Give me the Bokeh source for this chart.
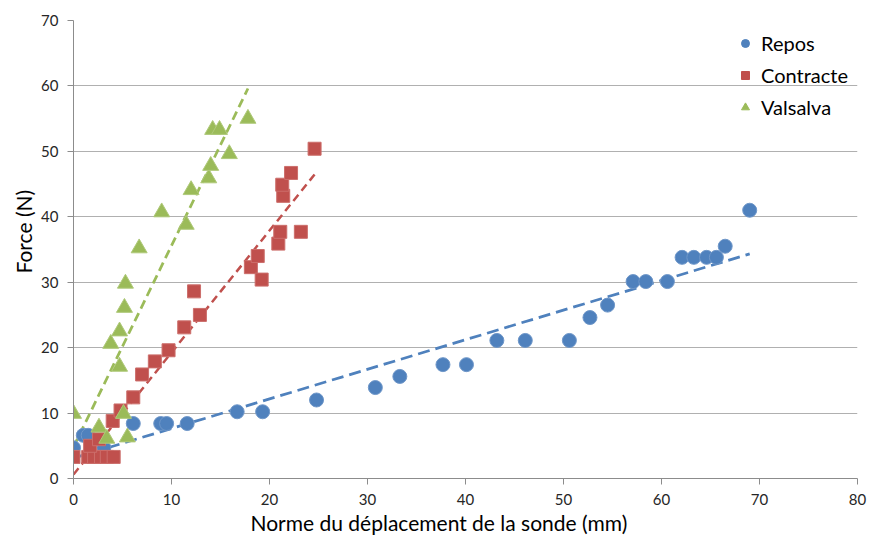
import numpy as np
from bokeh.plotting import figure
from bokeh.models import Range1d, FixedTicker, Legend, LegendItem, Title
from bokeh.embed import file_html
from bokeh.resources import INLINE

# ---- data ----
repos_x = [0, 1.0, 1.5, 3.1, 6.1, 8.9, 9.5, 11.6, 16.7, 19.3, 24.8, 30.8, 33.3, 37.7, 40.1,
           43.2, 46.1, 50.6, 52.7, 54.5, 57.1, 58.4, 60.6, 62.1, 63.3, 64.6, 65.6, 66.5, 69.0]
repos_y = [4.7, 6.6, 6.6, 4.7, 8.4, 8.4, 8.4, 8.4, 10.2, 10.2, 12.0, 13.9, 15.6, 17.4, 17.4,
           21.1, 21.1, 21.1, 24.6, 26.5, 30.1, 30.1, 30.1, 33.8, 33.8, 33.8, 33.8, 35.5, 41.0]

contracte_x = [0, 1.5, 2.1, 2.8, 3.4, 4.1, 1.7, 2.6, 4.0, 4.8, 6.1, 7.0, 8.3, 9.7, 11.3, 12.3,
               12.9, 18.1, 18.8, 19.2, 20.9, 21.1, 23.2, 21.4, 21.3, 22.2, 24.6]
contracte_y = [3.3, 3.3, 3.3, 3.3, 3.3, 3.3, 5.0, 6.0, 8.8, 10.4, 12.4, 15.9, 17.9, 19.6, 23.1, 28.6,
               25.0, 32.3, 34.0, 30.4, 35.9, 37.7, 37.7, 43.2, 44.9, 46.7, 50.4]

valsalva_x = [0, 2.6, 3.4, 5.1, 5.5, 3.8, 4.7, 4.7, 5.2, 5.3, 6.7, 9.0, 11.5, 12.0, 13.8, 14.0,
              14.2, 14.9, 15.9, 17.8]
valsalva_y = [9.9, 7.8, 6.1, 9.9, 6.3, 20.6, 17.1, 22.5, 26.1, 29.8, 35.2, 40.7, 38.8, 44.1, 45.9, 47.8,
              53.3, 53.3, 49.6, 55.0]

x_ticks = [0, 10, 20, 30, 40, 50, 60, 70, 80]
y_ticks = [0, 10, 20, 30, 40, 50, 60, 70]

x_title = "Norme du déplacement de la sonde (mm)"
y_title = "Force (N)"

BLUE = "#4F81BD"
RED = "#C0504D"
GREEN = "#9BBB59"
FONT = "Lato"

p = figure(width=870, height=536, output_backend="svg", toolbar_location=None,
           x_range=Range1d(0, 80), y_range=Range1d(0, 70),
           min_border_left=73, min_border_right=13, min_border_top=20, min_border_bottom=58)
p.outline_line_color = None
p.background_fill_color = "white"

# axes
for ax in (p.xaxis[0], p.yaxis[0]):
    ax.axis_line_color = "#8C8C8C"
    ax.major_tick_line_color = "#8C8C8C"
    ax.major_tick_out = 6
    ax.major_tick_in = 0
    ax.minor_tick_line_color = None
    ax.major_label_text_font = FONT
    ax.major_label_text_font_size = "15px"
    ax.major_label_text_color = "#262626"

p.xaxis.ticker = FixedTicker(ticks=x_ticks)
p.yaxis.ticker = FixedTicker(ticks=y_ticks)
p.xaxis.major_label_standoff = 9
p.yaxis.major_label_standoff = 9

# axis titles, placed off-centre like the reference
p.add_layout(Title(text=x_title, align="left", offset=177, standoff=0,
                   text_font=FONT, text_font_size="21px", text_font_style="normal",
                   text_color="#000000"), "below")
p.add_layout(Title(text=y_title, align="left", offset=205, standoff=6,
                   text_font=FONT, text_font_size="21px", text_font_style="normal",
                   text_color="#000000"), "left")

p.xgrid.grid_line_color = None
p.ygrid.grid_line_color = "#B0B0B0"
p.ygrid.grid_line_width = 1

# trend lines (least squares on the data)
def trend(xs, ys, color, dash, width):
    xs = np.asarray(xs, float)
    ys = np.asarray(ys, float)
    m, b = np.polyfit(xs, ys, 1)
    lx = np.array([xs.min(), xs.max()])
    p.line(lx, m * lx + b, line_color=color, line_dash=dash, line_width=width)

trend(repos_x, repos_y, BLUE, "12 6", 2.75)
trend(contracte_x, contracte_y, RED, "8 5", 2.5)
trend(valsalva_x, valsalva_y, GREEN, "9 5", 2.75)

# markers
p.scatter(repos_x, repos_y, marker="circle", size=14, fill_color=BLUE, line_color="#6F97C9", line_width=1)
p.scatter(contracte_x, contracte_y, marker="square", size=13, fill_color=RED, line_color="#CC6E6B", line_width=1)
p.scatter(valsalva_x, valsalva_y, marker="triangle", size=16, fill_color=GREEN, line_color="#AFC97A", line_width=1)

# legend with smaller markers
nan = [float("nan")]
lr = p.scatter(nan, nan, marker="circle", size=10, fill_color=BLUE, line_color=BLUE)
lc = p.scatter(nan, nan, marker="square", size=10, fill_color=RED, line_color=RED)
lv = p.scatter(nan, nan, marker="triangle", size=11, fill_color=GREEN, line_color=GREEN)

legend = Legend(items=[LegendItem(label="Repos", renderers=[lr]),
                       LegendItem(label="Contracte", renderers=[lc]),
                       LegendItem(label="Valsalva", renderers=[lv])],
                location=(662, 355), padding=0, spacing=0, margin=0,
                glyph_width=20, glyph_height=32, label_standoff=6,
                label_text_font=FONT, label_text_font_size="20px", label_text_color="#000000",
                background_fill_alpha=0, border_line_color=None)
p.add_layout(legend)

open("out.html", "w").write(file_html(p, INLINE))
